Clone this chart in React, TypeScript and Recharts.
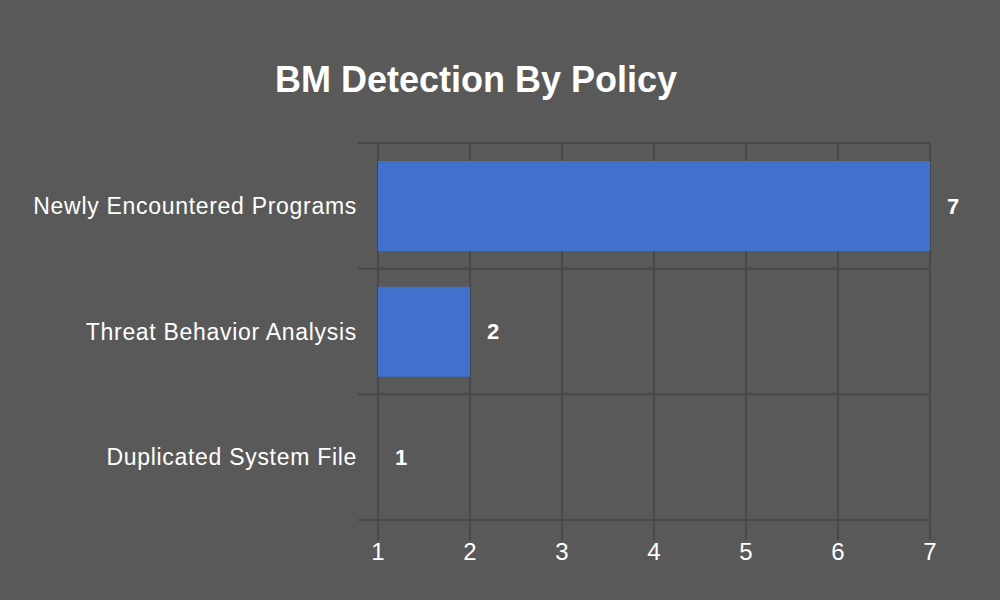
import { BarChart, Bar, XAxis, YAxis, CartesianGrid, LabelList } from 'recharts';

const categories = ['Newly Encountered Programs', 'Threat Behavior Analysis', 'Duplicated System File'];
const detections = [7, 2, 1];
const xTicks = [1, 2, 3, 4, 5, 6, 7];
const bandEdges = [0, 1, 2, 3];

const data = categories.map((name, i) => ({ name, value: detections[i] }));

const font = '"Liberation Sans", Arial, sans-serif';
const gridColor = '#484848';

// horizontal grid lines on the category band edges, not on the band centres
const bandBoundaries = ({ offset }: any) => {
  const step = offset.height / categories.length;
  return bandEdges.map((i) => offset.top + i * step);
};

// category label plus the short grid stubs left of the plot at the band edges
const CategoryTick = (props: any) => {
  const { x, y, payload, index } = props;
  const half = payload.offset ?? 0;
  const last = index === categories.length - 1;
  return (
    <g>
      <text x={x} y={y} dy="0.355em" textAnchor="end" fill="#fff" fontSize={23} letterSpacing={0.7} fontFamily={font}>
        {payload.value}
      </text>
      <line x1={x + 1} x2={x + 21} y1={y - half} y2={y - half} stroke={gridColor} strokeWidth={2} />
      {last && <line x1={x + 1} x2={x + 21} y1={y + half} y2={y + half} stroke={gridColor} strokeWidth={2} />}
    </g>
  );
};

export default function App() {
  return (
    <div style={{ position: 'absolute', left: 0, top: 0, width: 1000, height: 600, background: '#595959', fontFamily: font }}>
      <div style={{ position: 'absolute', left: 0, width: 952, top: 59, textAlign: 'center', color: '#fff', fontWeight: 'bold', fontSize: 36 }}>
        BM Detection By Policy
      </div>
      <BarChart width={1000} height={600} data={data} layout="vertical" margin={{ top: 143, right: 70, bottom: 20, left: 0 }}>
        <CartesianGrid stroke={gridColor} strokeWidth={2} horizontalCoordinatesGenerator={bandBoundaries} />
        <XAxis
          type="number"
          dataKey="value"
          domain={[1, 7]}
          ticks={xTicks}
          height={60}
          tickSize={20}
          tickMargin={3}
          axisLine={false}
          tickLine={{ stroke: gridColor, strokeWidth: 2 }}
          tick={{ fill: '#fff', fontSize: 24, fontFamily: font }}
        />
        <YAxis
          type="category"
          dataKey="name"
          width={378}
          tickSize={0}
          tickMargin={21}
          axisLine={false}
          tickLine={false}
          interval={0}
          tick={<CategoryTick />}
        />
        <Bar dataKey="value" fill="#4171CC" barSize={90} minPointSize={0.01} isAnimationActive={false}>
          <LabelList dataKey="value" position="right" offset={17} fill="#fff" fontWeight="bold" fontSize={22} fontFamily={font} />
        </Bar>
      </BarChart>
    </div>
  );
}
